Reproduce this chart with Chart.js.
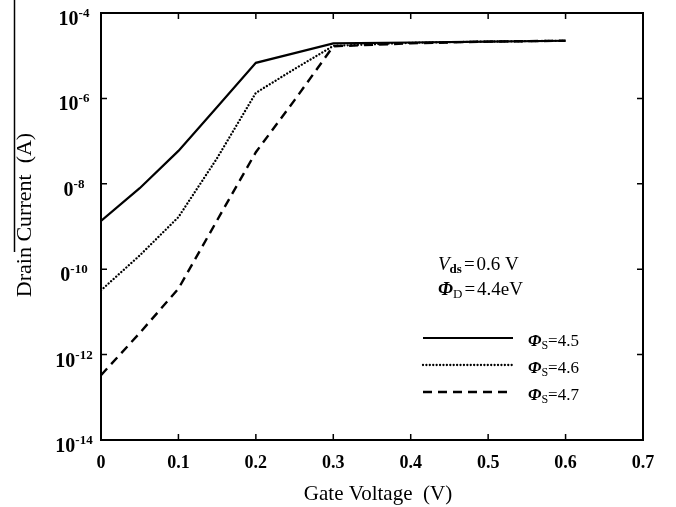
<!DOCTYPE html>
<html>
<head>
<meta charset="utf-8">
<script src="https://cdn.jsdelivr.net/npm/chart.js@4"></script>
<style>
  html, body { margin: 0; padding: 0; background: #fff; }
  canvas { display: block; }
</style>
</head>
<body>
<canvas id="chart" width="676" height="507"></canvas>
<script>
// gate voltage (V)
const gateVoltage = [0, 0.05, 0.1, 0.15, 0.2, 0.25, 0.3, 0.4, 0.5, 0.6];

// drain current (A)
const current45 = [1.35e-9, 7.9e-9, 5.9e-8, 6.3e-7, 6.8e-6, 1.15e-5, 1.95e-5, 2.04e-5, 2.14e-5, 2.24e-5];
const current46 = [3.2e-11, 2.1e-10, 1.66e-9, 4.0e-8, 1.35e-6, 4.9e-6, 1.7e-5, 2.0e-5, 2.14e-5, 2.24e-5];
const current47 = [3.3e-13, 3.2e-12, 3.5e-11, 1.4e-9, 5.5e-8, 9.1e-7, 1.66e-5, 1.95e-5, 2.14e-5, 2.24e-5];

const seriesNames = ['4.5', '4.6', '4.7'];

// y axis ticks (the "1" of two labels is cut off in the original)
const yTicks = [1e-14, 1e-12, 1e-10, 1e-8, 1e-6, 1e-4];
const yTickBase = ['10', '10', '0', '0', '10', '10'];
const yTickExp = ['-14', '-12', '-10', '-8', '-6', '-4'];
const xTicks = [0, 0.1, 0.2, 0.3, 0.4, 0.5, 0.6, 0.7];

const serif = '"Liberation Serif", "Times New Roman", serif';

function toPoints(ys) {
  return gateVoltage.map((x, i) => ({ x: x, y: ys[i] }));
}

// draws a row of text pieces, each with its own font and vertical shift
function drawRuns(ctx, runs, x, y) {
  ctx.textAlign = 'left';
  ctx.textBaseline = 'alphabetic';
  runs.forEach(r => {
    ctx.font = r.font;
    ctx.fillText(r.t, x, y + (r.dy || 0));
    x += ctx.measureText(r.t).width + (r.gap || 0);
  });
}

const decorPlugin = {
  id: 'decor',
  afterDraw(chart) {
    const ctx = chart.ctx;
    const area = chart.chartArea;
    const xs = chart.scales.x;
    const ys = chart.scales.y;
    ctx.save();
    ctx.strokeStyle = '#000';
    ctx.fillStyle = '#000';

    // frame
    ctx.lineWidth = 2;
    ctx.setLineDash([]);
    ctx.strokeRect(area.left, area.top, area.right - area.left, area.bottom - area.top);

    // inward ticks
    ctx.lineWidth = 1.5;
    ctx.beginPath();
    xTicks.slice(1, -1).forEach(v => {
      const px = xs.getPixelForValue(v);
      ctx.moveTo(px, area.bottom); ctx.lineTo(px, area.bottom - 6);
      ctx.moveTo(px, area.top); ctx.lineTo(px, area.top + 6);
    });
    yTicks.slice(1, -1).forEach(v => {
      const py = ys.getPixelForValue(v);
      ctx.moveTo(area.left, py); ctx.lineTo(area.left + 6, py);
      ctx.moveTo(area.right, py); ctx.lineTo(area.right - 6, py);
    });
    ctx.stroke();

    // y tick labels with superscripts
    yTicks.forEach((v, i) => {
      const py = ys.getPixelForValue(v);
      ctx.font = 'bold 20px ' + serif;
      const bw = ctx.measureText(yTickBase[i]).width;
      ctx.font = 'bold 13px ' + serif;
      const ew = ctx.measureText(yTickExp[i]).width;
      const x0 = 74 - (bw + ew) / 2;
      drawRuns(ctx, [
        { t: yTickBase[i], font: 'bold 20px ' + serif, dy: 0 },
        { t: yTickExp[i], font: 'bold 13px ' + serif, dy: -8 }
      ], x0, py + 12);
    });

    // axis titles
    ctx.font = '21px ' + serif;
    ctx.textAlign = 'center';
    ctx.textBaseline = 'middle';
    ctx.fillText('Gate Voltage  (V)', 378, 494);
    ctx.save();
    ctx.translate(25, 215);
    ctx.rotate(-Math.PI / 2);
    ctx.font = '22px ' + serif;
    ctx.fillText('Drain Current  (A)', 0, 0);
    ctx.restore();

    // stray border line at the left edge of the original figure
    ctx.lineWidth = 1.5;
    ctx.beginPath();
    ctx.moveTo(14.5, 0); ctx.lineTo(14.5, 252);
    ctx.stroke();

    // condition notes
    drawRuns(ctx, [
      { t: 'V', font: 'italic 19px ' + serif },
      { t: 'ds', font: 'bold 13px ' + serif, dy: 3, gap: 2 },
      { t: '=', font: '19px ' + serif, gap: 2 },
      { t: '0.6 V', font: '19px ' + serif }
    ], 438, 270);
    drawRuns(ctx, [
      { t: '\u03A6', font: 'bold italic 19px ' + serif },
      { t: 'D', font: '13px ' + serif, dy: 3, gap: 2 },
      { t: '=', font: '19px ' + serif, gap: 2 },
      { t: '4.4eV', font: '19px ' + serif }
    ], 438, 295);

    // legend
    const rows = [338, 365, 392];
    chart.data.datasets.forEach((ds, i) => {
      const y = rows[i];
      ctx.lineWidth = ds.borderWidth;
      ctx.lineCap = ds.borderCapStyle || 'butt';
      ctx.setLineDash(ds.borderDash || []);
      ctx.beginPath();
      ctx.moveTo(423, y); ctx.lineTo(513, y);
      ctx.stroke();
      ctx.setLineDash([]);
      drawRuns(ctx, [
        { t: '\u03A6', font: 'bold italic 17px ' + serif },
        { t: 'S', font: '12px ' + serif, dy: 3 },
        { t: '=' + seriesNames[i], font: '17px ' + serif }
      ], 528, y + 8);
    });
    ctx.restore();
  }
};

const ctx = document.getElementById('chart').getContext('2d');

const chart = new Chart(ctx, {
  type: 'line',
  data: {
    datasets: [{
      label: '\u03A6S=' + seriesNames[0],
      data: toPoints(current45),
      borderColor: '#000',
      borderWidth: 2.2,
      borderDash: [],
      pointRadius: 0
    }, {
      label: '\u03A6S=' + seriesNames[1],
      data: toPoints(current46),
      borderColor: '#000',
      borderWidth: 2.3,
      borderDash: [0.01, 3.4],
      borderCapStyle: 'round',
      pointRadius: 0
    }, {
      label: '\u03A6S=' + seriesNames[2],
      data: toPoints(current47),
      borderColor: '#000',
      borderWidth: 2.4,
      borderDash: [9, 6],
      pointRadius: 0
    }]
  },
  options: {
    responsive: false,
    devicePixelRatio: 1,
    animation: false,
    layout: { padding: { top: 13, right: 33, left: 0, bottom: 0 } },
    plugins: {
      legend: { display: false },
      tooltip: { enabled: false }
    },
    scales: {
      x: {
        type: 'linear',
        min: 0,
        max: 0.7,
        grid: { display: false, drawTicks: false },
        border: { display: false },
        ticks: {
          stepSize: 0.1,
          padding: 13,
          color: '#000',
          font: { family: serif, size: 18, weight: 'bold' },
          maxRotation: 0
        },
        afterFit: (scale) => { scale.height = 67; }
      },
      y: {
        type: 'logarithmic',
        min: 1e-14,
        max: 1e-4,
        grid: { display: false, drawTicks: false },
        border: { display: false },
        ticks: { display: false },
        afterBuildTicks: (scale) => { scale.ticks = yTicks.map(v => ({ value: v })); },
        afterFit: (scale) => { scale.width = 101; }
      }
    }
  },
  plugins: [decorPlugin]
});
</script>
</body>
</html>
